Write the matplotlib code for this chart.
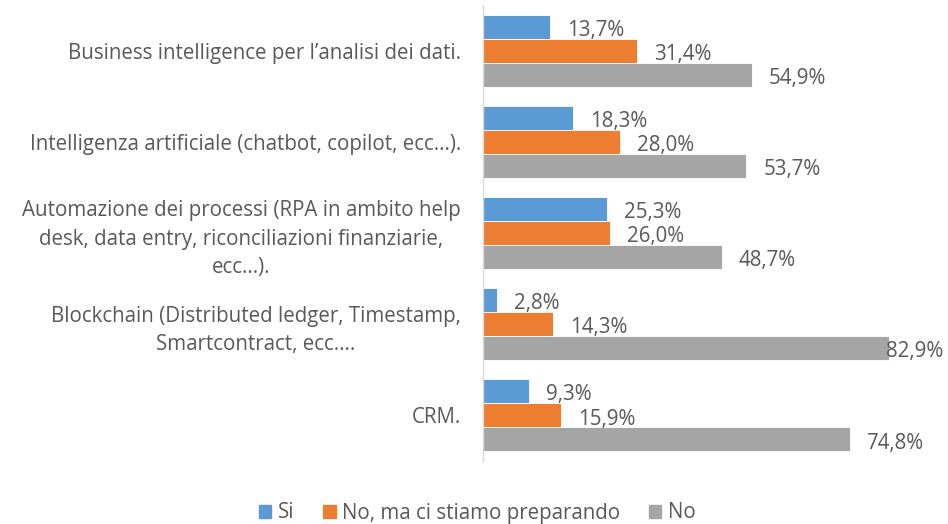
import numpy as np
import matplotlib.pyplot as plt
from matplotlib.patches import Patch

plt.rcParams['font.family'] = ['Open Sans', 'DejaVu Sans']

# categorie (dall'alto in basso) e valori in percentuale
categorie = [
    "Business intelligence per l\u2019analisi dei dati.",
    "Intelligenza artificiale (chatbot, copilot, ecc...).",
    "Automazione dei processi (RPA in ambito help\ndesk, data entry, riconciliazioni finanziarie,\necc...).",
    "Blockchain (Distributed ledger, Timestamp,\nSmartcontract, ecc....",
    "CRM.",
]
serie = ["Si", "No, ma ci stiamo preparando", "No"]
si = [13.7, 18.3, 25.3, 2.8, 9.3]
no_prep = [31.4, 28.0, 26.0, 14.3, 15.9]
no = [54.9, 53.7, 48.7, 82.9, 74.8]
colori = ["#5B9BD5", "#ED7D31", "#A5A5A5"]
testo = "#595959"
fs = 14.8

fig = plt.figure(figsize=(9.48, 5.24), dpi=100)
ax = fig.add_axes([483 / 948, 1 - 461 / 524, (938 - 483) / 948, (461 - 5) / 524])

xmax = (938 - 483) / 4.9
h = 24 / 91
y = np.arange(len(categorie))

for j, vals in enumerate([si, no_prep, no]):
    pos = y + (j - 1) * h
    ax.barh(pos, vals, height=h, color=colori[j], edgecolor="white", linewidth=0.6)
    for p, v in zip(pos, vals):
        # le etichette restano dentro l'area del grafico, come in Excel
        xl = min(v + 17 / 4.9, (886 - 483) / 4.9)
        ax.text(xl, p + 0.04, f"{v:.1f}%".replace(".", ","), va="center", ha="left",
                fontsize=fs, color=testo)

ax.set_xlim(0, xmax)
ax.set_ylim(len(categorie) - 0.5, -0.5)
ax.set_xticks([])
ax.set_yticks(y)
ax.set_yticklabels(categorie, fontsize=fs, color=testo)
for lbl in ax.get_yticklabels():
    lbl.set_multialignment("center")
    lbl.set_linespacing(1.45)
ax.tick_params(axis="y", length=0, pad=16)
for s in ["top", "right", "bottom"]:
    ax.spines[s].set_visible(False)
ax.spines["left"].set_color("#D9D9D9")
ax.spines["left"].set_linewidth(1)

handles = [Patch(color=c, label=l) for c, l in zip(colori, serie)]
fig.legend(handles=handles, loc="center", bbox_to_anchor=(477 / 948, 1 - 513 / 524),
           ncol=3, frameon=False, fontsize=fs, handlelength=0.62, handleheight=0.62,
           handletextpad=0.3, columnspacing=1.4, labelcolor=testo)

fig.savefig("out.png", dpi=100)
